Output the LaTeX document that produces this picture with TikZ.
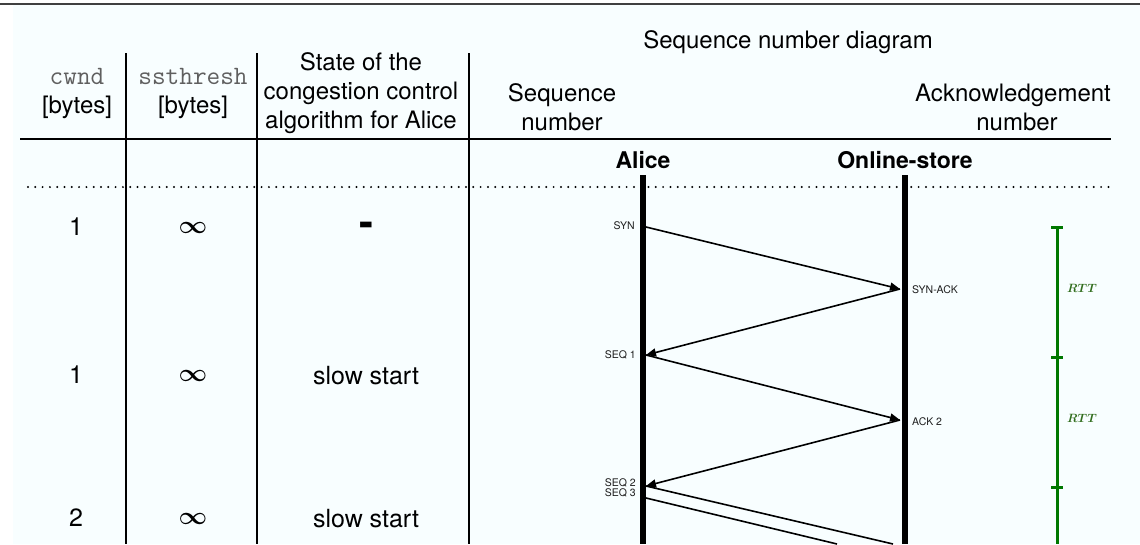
\documentclass[tikz,border=0pt]{standalone}
\usepackage{amsmath}
\usepackage{fontspec}
\setmainfont{TeX Gyre Heros}
\usetikzlibrary{arrows.meta}
\definecolor{bgc}{RGB}{248,254,255}
\definecolor{rttgreen}{RGB}{0,120,0}
\definecolor{rtttext}{RGB}{50,110,30}
\definecolor{monogray}{RGB}{95,95,95}
\definecolor{lbl}{RGB}{30,30,30}
\tikzset{
  hdr/.style={font=\fontsize{24}{29}\selectfont, inner sep=0pt, align=center},
  cell/.style={font=\fontsize{25}{29}\selectfont, inner sep=0pt},
  mono/.style={font=\fontsize{26.5}{29}\ttfamily, text=monogray, inner sep=0pt},
  actor/.style={font=\fontsize{23}{28}\selectfont\bfseries, inner sep=0pt},
  msglbl/.style={font=\fontsize{10.5}{11}\selectfont, text=lbl, inner sep=0pt},
  rttlbl/.style={font=\fontsize{13}{13}\selectfont, text=rtttext, inner sep=0pt},
  tabline/.style={line width=2pt, black},
  dotline/.style={line width=2.2pt, dash pattern=on 0pt off 7.3pt, line cap=round},
  life/.style={line width=6pt, black},
  msg/.style={line width=1.6pt, -{Triangle[length=10pt,width=8pt]}},
  msgcut/.style={line width=1.6pt},
  rttbar/.style={line width=3pt, rttgreen},
}
\begin{document}
\begin{tikzpicture}[x=1pt,y=-1pt]
\useasboundingbox (0,0) rectangle (1140,544);
\fill[white] (0,0) rectangle (1140,544);
\fill[bgc] (13,5) rectangle (1140,544);
\draw[line width=2pt, black!75] (0,3.5) -- (1140,3.5);

% table lines
\draw[tabline] (126,53) -- (126,544);
\draw[tabline] (256.5,53) -- (256.5,544);
\draw[tabline] (469,53) -- (469,544);
\draw[tabline] (20,138.5) -- (1111,138.5);
\draw[dotline] (28,187) -- (1111,187);

% headers
\node[mono] (hcwnd) at (77,76) {cwnd};
\node[hdr] (hcwndu) at (77,107) {[bytes]};
\node[mono] (hss) at (193,76) {ssthresh};
\node[hdr] (hssu) at (193,107) {[bytes]};
\node[hdr] (hstate) at (361,93) {State of the\\congestion control\\algorithm for Alice};
\node[hdr] (hdiag) at (788,42) {Sequence number diagram};
\node[hdr] (hseq) at (562,107) {Sequence\\number};
\node[hdr] (hack) at (1013,107) {Acknowledgement\\\hspace*{8pt}number};

% actors and lifelines
\node[actor] (alice) at (643,160) {Alice};
\node[actor] (store) at (905,160) {Online-store};
\coordinate (atop) at (643,175);
\coordinate (abot) at (643,544);
\coordinate (stop) at (905,175);
\coordinate (sbot) at (905,544);
\draw[life] (atop) -- (abot);
\draw[life] (stop) -- (sbot);

% message endpoints
\coordinate (a1) at (646,227);
\coordinate (s1) at (900,289);
\coordinate (a2) at (646,355);
\coordinate (s2) at (900,420);
\coordinate (a3) at (646,486);
\coordinate (a4) at (646,498);
\coordinate (e3) at (893,544);
\coordinate (e4) at (837,544);

\draw[msg] (a1) -- (s1);
\draw[msg] (s1) -- (a2);
\draw[msg] (a2) -- (s2);
\draw[msg] (s2) -- (a3);
\draw[msgcut] (a3) -- (e3);
\draw[msgcut] (a4) -- (e4);

% message labels
\node[msglbl, anchor=east] (lsyn) at (635,226) {SYN};
\node[msglbl, anchor=west] (lsynack) at (912,290) {SYN-ACK};
\node[msglbl, anchor=east] (lseq1) at (636,355) {SEQ 1};
\node[msglbl, anchor=west] (lack2) at (912,422) {ACK 2};
\node[msglbl, anchor=east] (lseq2) at (636,483) {SEQ 2};
\node[msglbl, anchor=east] (lseq3) at (636,493) {SEQ 3};

% RTT bar
\coordinate (r0) at (1057,227);
\coordinate (r1) at (1057,357);
\coordinate (r2) at (1057,487);
\coordinate (r3) at (1057,544);
\draw[rttbar] (r0) -- (r3);
\foreach \c in {r0,r1,r2} \draw[rttbar] ([xshift=-6pt]\c) -- ([xshift=6pt]\c);
\node[rttlbl, anchor=west] (rtt1) at (1067,288) {$\boldsymbol{RTT}$};
\node[rttlbl, anchor=west] (rtt2) at (1067,418) {$\boldsymbol{RTT}$};

% table rows
\node[cell] (c1) at (76,227) {1};
\node[cell] (t1) at (193,228) {$\boldsymbol{\infty}$};
\node[cell, font=\fontsize{42}{42}\selectfont\bfseries] (st1) at (366,229) {-};
\node[cell] (c2) at (76,375) {1};
\node[cell] (t2) at (193,376) {$\boldsymbol{\infty}$};
\node[cell] (st2) at (366,376) {slow start};
\node[cell] (c3) at (76,518) {2};
\node[cell] (t3) at (193,519) {$\boldsymbol{\infty}$};
\node[cell] (st3) at (366,519) {slow start};
\end{tikzpicture}
\end{document}
